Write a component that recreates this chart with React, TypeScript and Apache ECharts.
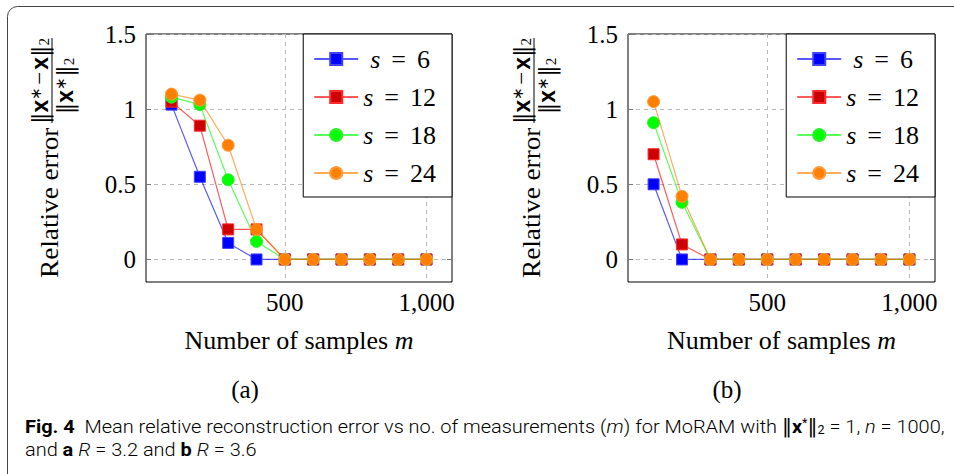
import React, { useEffect, useRef } from 'react';
import * as echarts from 'echarts';

// ---------- data ----------
const samples = [100, 200, 300, 400, 500, 600, 700, 800, 900, 1000];
const seriesNames = ['s = 6', 's = 12', 's = 18', 's = 24'];
// panel (a) R = 3.2
const errA_s6 = [1.03, 0.55, 0.11, 0, 0, 0, 0, 0, 0, 0];
const errA_s12 = [1.05, 0.89, 0.2, 0.2, 0, 0, 0, 0, 0, 0];
const errA_s18 = [1.08, 1.03, 0.53, 0.12, 0, 0, 0, 0, 0, 0];
const errA_s24 = [1.1, 1.06, 0.76, 0.2, 0, 0, 0, 0, 0, 0];
// panel (b) R = 3.6
const errB_s6 = [0.5, 0, 0, 0, 0, 0, 0, 0, 0, 0];
const errB_s12 = [0.7, 0.1, 0, 0, 0, 0, 0, 0, 0, 0];
const errB_s18 = [0.91, 0.38, 0, 0, 0, 0, 0, 0, 0, 0];
const errB_s24 = [1.05, 0.42, 0, 0, 0, 0, 0, 0, 0, 0];
const yTicks = [0, 0.5, 1, 1.5];
const xTicks = [500, 1000];
const panelLabels = ['(a)', '(b)'];

const SERIF = 'Liberation Serif';

const markStyles = [
  { symbol: 'rect', size: 11, fill: '#0000ff', border: '#4040ff', line: '#0000ff' },
  { symbol: 'rect', size: 11, fill: '#cc0000', border: '#ff2a2a', line: '#ff0000' },
  { symbol: 'circle', size: 12, fill: '#00ff00', border: '#30ee30', line: '#00ff00' },
  { symbol: 'circle', size: 12, fill: '#ff8000', border: '#ff9a3a', line: '#ff8000' },
];

const grids = [
  { left: 146, top: 34, width: 306, height: 248 },
  { left: 628, top: 34, width: 307, height: 248 },
];

function makeSeries(panel: number, values: number[][]) {
  return values.map((vals, i) => ({
    type: 'line',
    name: seriesNames[i],
    xAxisIndex: panel,
    yAxisIndex: panel,
    data: samples.map((x, k) => [x, vals[k]]),
    symbol: markStyles[i].symbol,
    symbolSize: markStyles[i].size,
    lineStyle: { color: markStyles[i].line, width: 1.2, opacity: 0.65 },
    itemStyle: { color: markStyles[i].fill, borderColor: markStyles[i].border, borderWidth: 1 },
    emphasis: { disabled: true },
    z: 3 + i,
  }));
}

function xAxis(gridIndex: number, mirror: boolean) {
  return {
    type: 'value',
    gridIndex,
    position: mirror ? 'top' : 'bottom',
    min: 10,
    max: 1090,
    axisLine: { show: false },
    axisTick: { show: true, inside: true, length: 5, customValues: xTicks, lineStyle: { color: '#777', width: 1 } },
    axisLabel: mirror
      ? { show: false }
      : {
          show: true,
          customValues: xTicks,
          formatter: (v: number) => (v === 1000 ? '1,000' : String(v)),
          fontSize: 25,
          fontFamily: SERIF,
          color: '#000',
          margin: 8,
        },
    splitLine: mirror ? { show: false } : { show: true, lineStyle: { type: [4, 4], color: '#b8b8b8', width: 1 } },
    name: mirror ? '' : '{t|Number of samples }{i|m}',
    nameLocation: 'middle',
    nameGap: 45,
    nameTextStyle: {
      rich: {
        t: { fontSize: 26, fontFamily: SERIF, color: '#000' },
        i: { fontSize: 26, fontFamily: SERIF, fontStyle: 'italic', color: '#000' },
      },
    },
  };
}

function yAxis(gridIndex: number, mirror: boolean) {
  return {
    type: 'value',
    gridIndex,
    position: mirror ? 'right' : 'left',
    min: -0.15,
    max: 1.5,
    axisLine: { show: false },
    axisTick: { show: true, inside: true, length: 5, customValues: yTicks, lineStyle: { color: '#777', width: 1 } },
    axisLabel: mirror
      ? { show: false }
      : { show: true, customValues: yTicks, fontSize: 25, fontFamily: SERIF, color: '#000', margin: 10 },
    splitLine: mirror ? { show: false } : { show: true, lineStyle: { type: [4, 4], color: '#b8b8b8', width: 1 } },
  };
}

const legendRich = {
  p: { width: 7, fontSize: 26, fontFamily: SERIF, lineHeight: 20 },
  s: { fontSize: 26, fontFamily: SERIF, fontStyle: 'italic', color: '#000', lineHeight: 20 },
  q: { fontSize: 26, fontFamily: SERIF, color: '#000', padding: [0, 11, 0, 11], lineHeight: 20 },
  n: { fontSize: 26, fontFamily: SERIF, color: '#000', lineHeight: 20 },
};

function legend(right: number) {
  return {
    orient: 'vertical',
    right,
    top: 34,
    data: seriesNames,
    itemWidth: 44,
    itemHeight: 15,
    itemGap: 12,
    padding: [12, 16, 11, 10],
    borderColor: '#000',
    borderWidth: 1,
    borderRadius: 0,
    backgroundColor: '#fff',
    selectedMode: false,
    formatter: (name: string) => {
      const n = name.replace('s = ', '');
      return (n.length === 1 ? '{p|}' : '') + '{s|s}{q|=}{n|' + n + '}';
    },
    textStyle: { fontSize: 26, fontFamily: SERIF, color: '#000', rich: legendRich },
  };
}

const fracRich = {
  b: { fontSize: 23, fontFamily: 'DejaVu Serif', color: '#000' },
  x: { fontSize: 23, fontFamily: 'Liberation Sans', fontWeight: 'bold', color: '#000' },
  sup: { fontSize: 15, fontFamily: SERIF, color: '#000', verticalAlign: 'top' },
  sub: { fontSize: 15, fontFamily: SERIF, color: '#000', verticalAlign: 'bottom' },
  m: { fontSize: 23, fontFamily: SERIF, color: '#000', padding: [0, 2, 0, 2] },
};

function yLabel(x: number) {
  return {
    type: 'group',
    x,
    y: 278,
    rotation: Math.PI / 2,
    children: [
      {
        type: 'text',
        x: 0,
        y: 0,
        scaleX: 1.09,
        style: {
          text: 'Relative error',
          fontSize: 25,
          fontFamily: SERIF,
          fill: '#000',
          align: 'left',
          verticalAlign: 'middle',
          textAlign: 'left',
          textVerticalAlign: 'middle',
        },
      },
      { type: 'line', shape: { x1: 155, y1: 2, x2: 240, y2: 2 }, style: { stroke: '#000', lineWidth: 1 } },
      {
        type: 'text',
        x: 197,
        y: 1,
        style: {
          text: '{b|‖}{x|x}{sup|∗}{m|−}{x|x}{b|‖}{sub|2}',
          rich: fracRich,
          align: 'center',
          verticalAlign: 'bottom',
          textAlign: 'center',
          textVerticalAlign: 'bottom',
        },
      },
      {
        type: 'text',
        x: 192,
        y: 3,
        style: {
          text: '{b|‖}{x|x}{sup|∗}{b|‖}{sub|2}',
          rich: fracRich,
          align: 'center',
          verticalAlign: 'top',
          textAlign: 'center',
          textVerticalAlign: 'top',
        },
      },
    ],
  };
}

const CF = 19;
const capRich = {
  b: { fontSize: CF, fontFamily: 'Roboto', fontWeight: 'bold', color: '#231f20' },
  r: { fontSize: CF, fontFamily: 'Roboto', fontWeight: 300, color: '#231f20' },
  i: { fontSize: CF, fontFamily: 'Roboto', fontWeight: 300, fontStyle: 'italic', color: '#231f20' },
  s: { fontSize: CF, fontFamily: 'DejaVu Sans', color: '#231f20' },
  bx: { fontSize: CF, fontFamily: 'Roboto', fontWeight: 'bold', color: '#231f20' },
  sup: { fontSize: 12, fontFamily: 'Roboto', color: '#231f20', verticalAlign: 'top' },
  sub: { fontSize: 12, fontFamily: 'Roboto', color: '#231f20', verticalAlign: 'bottom' },
};

const caption1 =
  '{b|Fig. 4}{r|  Mean relative reconstruction error vs no. of measurements (}{i|m}{r|) for MoRAM with }{s|‖}{bx|x}{sup|*}{s|‖}{sub|2}{r| = 1, }{i|n}{r| = 1000,}';
const caption2 = '{r|and }{b|a}{r| }{i|R}{r| = 3.2 and }{b|b}{r| }{i|R}{r| = 3.6}';

export default function App() {
  const ref = useRef<HTMLDivElement>(null);
  useEffect(() => {
    document.body.style.margin = '0';
    const chart = echarts.init(ref.current!, null, { renderer: 'svg' });
    const option: any = {
      animation: false,
      backgroundColor: '#fff',
      grid: grids.map((g) => ({ ...g, show: true, borderColor: '#000', borderWidth: 1, backgroundColor: 'transparent' })),
      xAxis: [xAxis(0, false), xAxis(1, false), xAxis(0, true), xAxis(1, true)],
      yAxis: [yAxis(0, false), yAxis(1, false), yAxis(0, true), yAxis(1, true)],
      legend: [legend(954 - 452), legend(954 - 935)],
      series: [
        ...makeSeries(0, [errA_s6, errA_s12, errA_s18, errA_s24]),
        ...makeSeries(1, [errB_s6, errB_s12, errB_s18, errB_s24]),
      ],
      graphic: [
        {
          type: 'rect',
          shape: { x: 7.5, y: 6.5, width: 1000, height: 500, r: 10 },
          style: { fill: 'none', stroke: '#444', lineWidth: 1 },
          silent: true,
        },
        yLabel(50),
        yLabel(532),
        ...panelLabels.map((t, i) => ({
          type: 'text',
          x: 245 + i * 482,
          y: 389,
          style: {
            text: t,
            fontSize: 25,
            fontFamily: SERIF,
            fill: '#000',
            align: 'center',
            verticalAlign: 'middle',
            textAlign: 'center',
            textVerticalAlign: 'middle',
          },
        })),
        {
          type: 'text',
          x: 25,
          y: 427,
          scaleX: 1.05,
          style: { text: caption1, rich: capRich, align: 'left', verticalAlign: 'middle', textAlign: 'left', textVerticalAlign: 'middle' },
        },
        {
          type: 'text',
          x: 25,
          y: 450,
          scaleX: 1.05,
          style: { text: caption2, rich: capRich, align: 'left', verticalAlign: 'middle', textAlign: 'left', textVerticalAlign: 'middle' },
        },
      ],
    };
    chart.setOption(option);
    return () => chart.dispose();
  }, []);
  return <div ref={ref} style={{ width: 954, height: 474 }} />;
}
